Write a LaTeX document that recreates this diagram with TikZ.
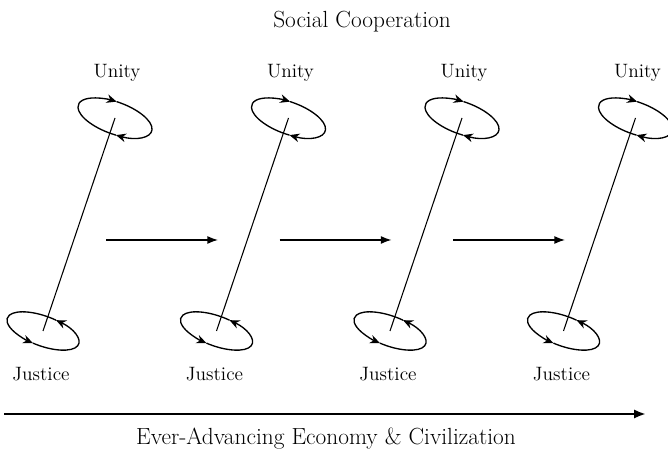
\documentclass[tikz,border=0pt]{standalone}
\usetikzlibrary{arrows.meta}

\tikzset{
  cyclearc/.style={line width=1pt,-{Stealth[length=7.5pt,width=6.5pt]}},
  stagearrow/.style={line width=1pt,-{Latex[length=8pt,width=6pt]}},
  timearrow/.style={line width=1.8pt,-{Latex[length=9pt,width=7pt]}},
  label/.style={anchor=base,inner sep=0pt},
}

\begin{document}
\begin{tikzpicture}[x=0.75pt,y=0.75pt,font=\fontsize{14.5}{17}\selectfont]
  \def\dx{173.5}
  \useasboundingbox (0,0) rectangle (668,452);
  % title
  \node[label] (title) at (362,424) {\fontsize{17.5}{20}\selectfont Social Cooperation};
  % one stage: unity above, justice below
  \foreach \i in {0,...,3} {
    \coordinate (top\i) at (115+\i*\dx,334);
    \coordinate (bot\i) at (43+\i*\dx,121);
    \node[label] (unity\i) at (117+\i*\dx,374) {Unity};
    \node[label] (justice\i) at (41+\i*\dx,71) {Justice};
    \draw[line width=0.8pt] (top\i) -- (bot\i);
    \begin{scope}[shift={(top\i)},rotate=-20]
      \draw[cyclearc] (280:39 and 16) arc[start angle=280,end angle=96,x radius=39,y radius=16];
      \draw[cyclearc] (96:39 and 16) arc[start angle=96,end angle=-80,x radius=39,y radius=16];
    \end{scope}
    \begin{scope}[shift={(bot\i)},rotate=-20]
      \draw[cyclearc] (77:38 and 15) arc[start angle=77,end angle=262,x radius=38,y radius=15];
      \draw[cyclearc] (262:38 and 15) arc[start angle=262,end angle=437,x radius=38,y radius=15];
    \end{scope}
  }
  % stage to stage
  \foreach \i in {0,1,2} {
    \coordinate (from\i) at (106+\i*\dx,212);
    \coordinate (to\i) at (218+\i*\dx,212);
    \draw[stagearrow] (from\i) -- (to\i);
  }
  % time axis
  \coordinate (axisstart) at (4,38);
  \coordinate (axisend) at (646,38);
  \draw[timearrow] (axisstart) -- (axisend);
  \node[label] (axislabel) at (326,7) {\fontsize{17.5}{20}\selectfont Ever-Advancing Economy \& Civilization};
\end{tikzpicture}
\end{document}
